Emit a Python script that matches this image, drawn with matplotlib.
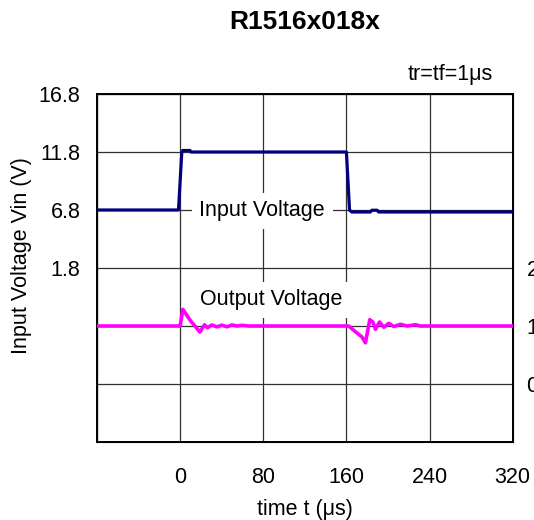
import numpy as np
import matplotlib
matplotlib.use("Agg")
import matplotlib.pyplot as plt

plt.rcParams['font.family'] = ['Liberation Sans', 'DejaVu Sans']

# input voltage (left axis, V) vs time (us)
t_in = [-80, -1.6, 1.6, 2.5, 9.5, 10.5, 160, 163, 165, 183, 184.5, 189.5, 191, 320]
v_in = [6.8, 6.8, 11.8, 11.93, 11.93, 11.8, 11.8, 6.8, 6.63, 6.63, 6.78, 6.78, 6.63, 6.63]

# output voltage (right axis units) vs time (us)
t_out = [-80, 0, 2.6, 10, 19, 23.4, 26.3, 30.5, 35.3, 40.2, 45, 49.8, 54.6, 59.5, 65.9,
         162.2, 168.7, 175, 178.3, 182.5, 185.4, 188, 191.8, 196, 200.8, 205.6,
         212, 218.5, 226.5, 231, 320]
v_out = [1.0, 1.0, 1.287, 1.09, 0.896, 1.02, 0.97, 1.018, 0.985, 1.015, 0.985, 1.018, 1.0, 1.012, 1.0,
         1.0, 0.901, 0.81, 0.71, 1.11, 1.069, 0.943, 1.069, 0.978, 1.047, 0.991,
         1.029, 1.0, 1.022, 1.0, 1.0]

x_ticks = [-80, 0, 80, 160, 240, 320]
x_labels = ["", "0", "80", "160", "240", "320"]
y_ticks = [-8.2, -3.2, 1.8, 6.8, 11.8, 16.8]
y_labels = ["", "", "1.8", "6.8", "11.8", "16.8"]
y2_ticks = [0, 1, 2]
y2_labels = ["0", "1", "2"]

fig = plt.figure(figsize=(5.34, 5.2), dpi=100)
ax = fig.add_axes([97/534, 1-442/520, (512.7-97)/534, (442-94)/520])

ax.set_xlim(-80, 320)
ax.set_ylim(-13.2, 16.8)
ax.set_xticks(x_ticks)
ax.set_xticklabels(x_labels)
ax.set_yticks(y_ticks)
ax.set_yticklabels(y_labels)
ax.tick_params(axis='both', length=0, labelsize=15.5)
ax.tick_params(axis='y', pad=12)
ax.tick_params(axis='x', pad=18)
ax.grid(True, color='#303030', linewidth=0.9)
for s in ax.spines.values():
    s.set_linewidth(1.4)
    s.set_color('black')

ax.plot(t_in, v_in, color='#000080', linewidth=2.3, zorder=3)

ax2 = ax.twinx()
ax2.set_ylim(-1, 5)
ax2.set_yticks(y2_ticks)
ax2.set_yticklabels(y2_labels)
ax2.tick_params(axis='y', length=0, labelsize=15.5, pad=10)
ax2.plot(t_out, v_out, color='#FF00FF', linewidth=2.6, zorder=3)

# labels on the traces
ax.text(79, 6.75, "Input Voltage", fontsize=15.5, ha='center', va='center',
        bbox=dict(boxstyle='square,pad=0.35', facecolor='white', edgecolor='none'), zorder=4)
ax.text(88, -0.95, "Output Voltage", fontsize=15.5, ha='center', va='center',
        bbox=dict(boxstyle='square,pad=0.35', facecolor='white', edgecolor='none'), zorder=4)

fig.text(304.5/534, 1-22/520, "R1516x018x", fontsize=19, fontweight='bold',
         ha='center', va='center')
fig.text(493/534, 1-75/520, "tr=tf=1μs", fontsize=15.5, ha='right', va='center')
fig.text(22/534, 1-256/520, "Input Voltage Vin (V)", fontsize=15.5, rotation=90,
         ha='center', va='center')
fig.text(304.5/534, 1-509/520, "time t (μs)", fontsize=15.5, ha='center', va='center')

plt.savefig("out.png", dpi=100)
